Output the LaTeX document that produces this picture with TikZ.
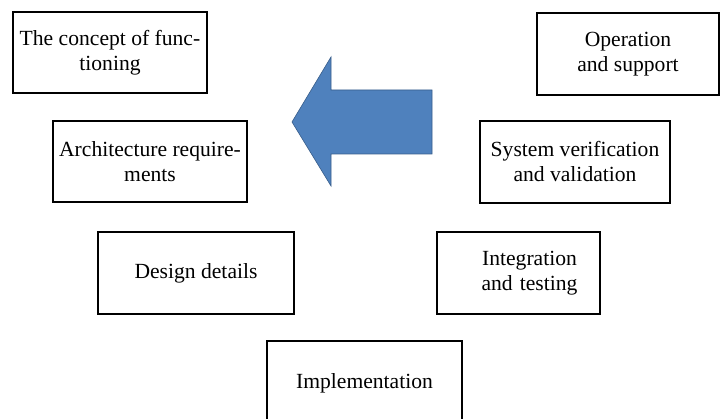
\documentclass[tikz,border=0pt]{standalone}
\usepackage{fontspec}
\setmainfont{Liberation Serif}
\definecolor{arrowblue}{HTML}{4F81BD}
\definecolor{arrowedge}{HTML}{385D8A}
\begin{document}
\begin{tikzpicture}[x=1pt,y=-1pt,
  stagebox/.style={draw=black, line width=1.6pt, fill=white, inner sep=0pt,
    align=center, font=\fontsize{21.6}{25}\selectfont},
  bigarrow/.style={fill=arrowblue, draw=arrowedge, line width=0.6pt, line join=miter}]
\useasboundingbox (0,0) rectangle (721,419);
\node[stagebox, minimum width=194pt, minimum height=81pt] (concept) at (110,52.5)
  {The concept of func-\\tioning};
\node[stagebox, minimum width=194pt, minimum height=81pt] (arch) at (150,161.5)
  {Architecture require-\\ments};
\node[stagebox, minimum width=196pt, minimum height=82pt] (design) at (196,273)
  {Design details};
\node[stagebox, minimum width=195pt, minimum height=84pt] (impl) at (364.5,383)
  {Implementation};
\node[stagebox, minimum width=163pt, minimum height=82pt, text width=160pt] (integ) at (518.5,273)
  {\hspace*{22pt}Integration\\\hspace*{22pt}and testing};
\node[stagebox, minimum width=190pt, minimum height=82pt] (verif) at (575,162)
  {System verification\\and validation};
\node[stagebox, minimum width=182pt, minimum height=82pt] (oper) at (628,54)
  {Operation\\and support};
\draw[bigarrow] (292,122) -- (331,57) -- (331,90) -- (432,90) -- (432,154)
  -- (331,154) -- (331,186) -- cycle;
\end{tikzpicture}
\end{document}
